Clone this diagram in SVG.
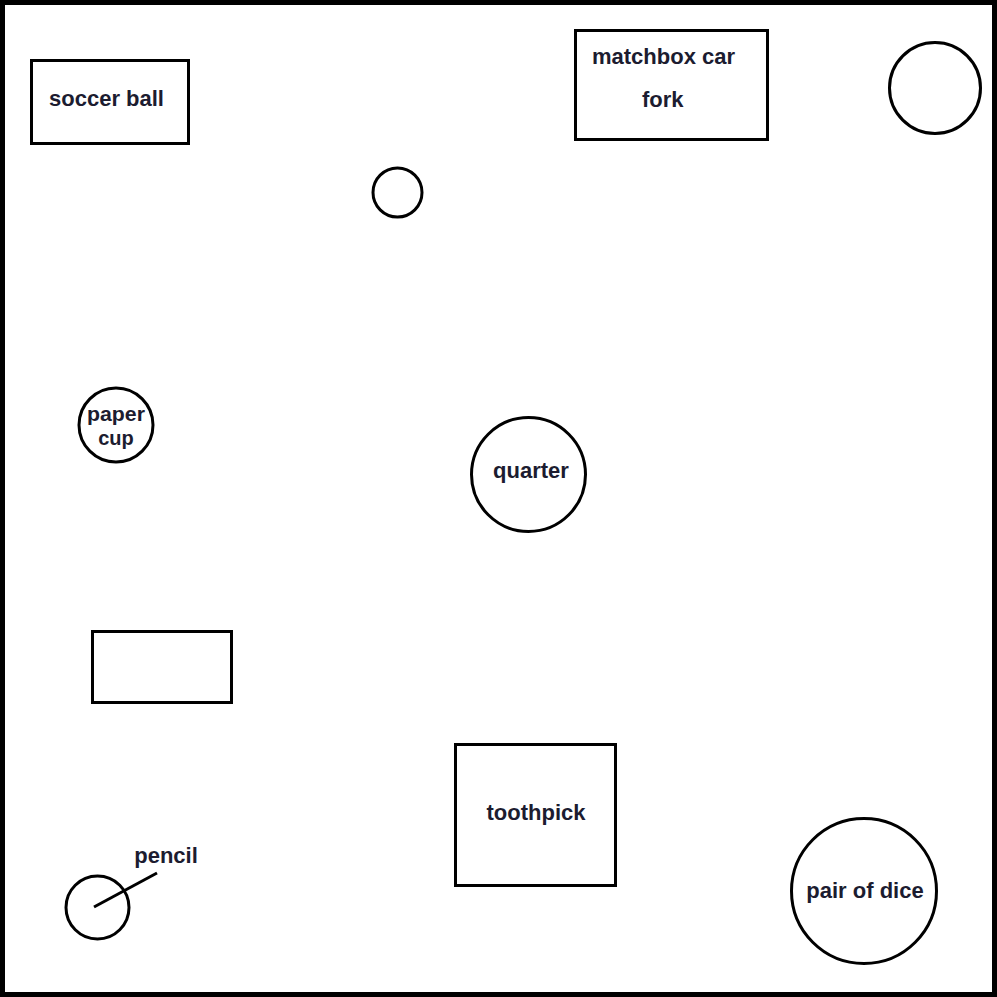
<svg xmlns="http://www.w3.org/2000/svg" width="997" height="997" viewBox="0 0 997 997">
<style>
.s{fill:none;stroke:#000;stroke-width:3}
.t{font-family:"Liberation Sans",Arial,sans-serif;font-weight:bold;font-size:22px;fill:#1c1c30}
.c{font-size:20px}
</style>
<rect x="0" y="0" width="997" height="997" fill="#fff"/>
<rect x="2.5" y="2.5" width="992" height="992" fill="none" stroke="#000" stroke-width="5"/>
<g id="soccer-ball"><rect class="s" x="31.5" y="60.5" width="157" height="83"/><text class="t" x="49" y="106">soccer ball</text></g>
<g id="matchbox"><rect class="s" x="575.5" y="30.5" width="192" height="109"/><text class="t" x="592" y="64">matchbox car</text><text class="t" x="642" y="107">fork</text></g>
<g id="circle-topright"><circle class="s" cx="935" cy="88" r="45.5"/></g>
<g id="circle-small"><circle class="s" cx="397.5" cy="192.5" r="24.5"/></g>
<g id="paper-cup"><circle class="s" cx="116" cy="425" r="37"/><text class="t c" x="116" y="421" text-anchor="middle" textLength="58" lengthAdjust="spacingAndGlyphs">paper</text><text class="t c" x="116" y="445" text-anchor="middle">cup</text></g>
<g id="quarter"><circle class="s" cx="528.5" cy="474.5" r="57"/><text class="t" x="531" y="478" text-anchor="middle">quarter</text></g>
<g id="empty-rect"><rect class="s" x="92.5" y="631.5" width="139" height="71"/></g>
<g id="toothpick"><rect class="s" x="455.5" y="744.5" width="160" height="141"/><text class="t" x="536" y="820" text-anchor="middle">toothpick</text></g>
<g id="pair-of-dice"><circle class="s" cx="864" cy="891" r="72.5"/><text class="t" x="865" y="898" text-anchor="middle">pair of dice</text></g>
<g id="pencil"><circle class="s" cx="97.5" cy="907.5" r="31.5"/><text class="t" x="166" y="863" text-anchor="middle">pencil</text></g>
<g id="connectors"><line x1="94" y1="907" x2="157" y2="873" stroke="#000" stroke-width="3"/></g>
</svg>
